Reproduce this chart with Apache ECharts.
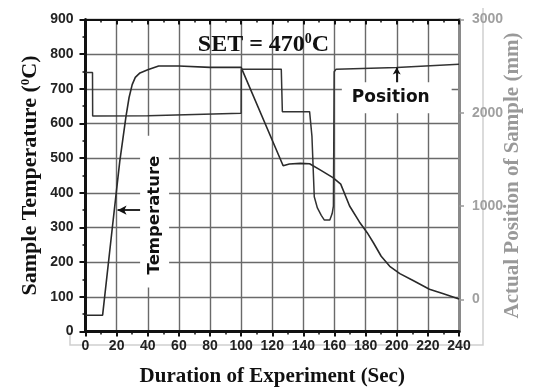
<!DOCTYPE html>
<html>
<head>
<meta charset="utf-8">
<script src="https://cdn.jsdelivr.net/npm/echarts@6/dist/echarts.min.js"></script>
<style>
  html, body { margin: 0; padding: 0; background: #fff; }
  #chart { width: 535px; height: 390px; }
</style>
</head>
<body>
<div id="chart"></div>
<script>
// temperature (left axis, degC) against time (s)
const tempTime  = [0, 11, 12, 17.5, 20, 22, 24, 26, 28, 30, 32, 35, 40, 47, 60, 80, 100, 127, 131, 138, 144, 150.5, 159, 164, 169.7, 176, 181, 185, 190, 195.5, 202, 210.5, 221, 230, 240];
const tempValue = [47, 47, 50, 310, 410, 490, 555, 620, 675, 712, 733, 746, 755, 766, 766, 762, 762, 478, 483, 485, 484, 467, 444, 425, 362, 316, 285, 256, 217, 188, 167, 147, 122, 109, 94];

// sample position (right axis, mm) against time (s)
const posTime  = [0, 4.5, 4.6, 40, 41, 100, 100.1, 125.8, 126.5, 144, 145.5, 147, 149, 151.5, 153.5, 157, 158.5, 159.3, 159.8, 161, 200, 240];
const posValue = [2431, 2431, 1965, 1968, 1985, 1995, 2468, 2468, 2012, 2012, 1750, 1100, 980, 900, 850, 850, 920, 1000, 2440, 2468, 2485, 2521];

const rightTicks = [0, 1000, 2000, 3000];

// annotation anchors, in data units
const tempArrow = { from: [40, 350], to: [20.6, 350] };
const posArrow = { from: [200, 2257], to: [200, 2485] };
const tempLabelAt = [44.4, 346];
const posLabelAt = [200, 2160];

const serif = 'Liberation Serif';
const sans = 'Liberation Sans';

const chart = echarts.init(document.getElementById('chart'));

const option = {
  animation: false,
  grid: { left: 85.5, right: 76, top: 19.5, bottom: 58.5, containLabel: false, outerBoundsMode: 'none' },
  xAxis: [
    {
      type: 'value', min: 0, max: 240, interval: 20,
      name: 'Duration of Experiment (Sec)', nameLocation: 'middle', nameGap: 35, nameMoveOverlap: false,
      nameTextStyle: { fontFamily: serif, fontWeight: 'bold', fontSize: 21, color: '#111' },
      axisLine: { show: true, onZero: false, lineStyle: { color: '#111', width: 3 } },
      axisTick: { show: true, length: 5, lineStyle: { color: '#111', width: 2 } },
      minorTick: { show: true, splitNumber: 2, length: 3, lineStyle: { color: '#111', width: 1.5 } },
      axisLabel: { fontFamily: sans, fontWeight: 'bold', fontSize: 14, color: '#222', margin: 8 },
      splitLine: { show: true, lineStyle: { color: '#6a6a6a', width: 1.4 } }
    },
    {
      type: 'value', position: 'top', min: 0, max: 240, interval: 20,
      axisLine: { show: true, onZero: false, lineStyle: { color: '#111', width: 2 } },
      axisTick: { show: true, inside: true, length: 5, lineStyle: { color: '#111', width: 2 } },
      minorTick: { show: true, splitNumber: 2, length: 3, lineStyle: { color: '#111', width: 1.5 } },
      axisLabel: { show: false },
      splitLine: { show: false }
    }
  ],
  yAxis: [
    {
      type: 'value', min: 0, max: 900, interval: 100,
      name: 'Sample Temperature ({s|0}C)', nameLocation: 'middle', nameGap: 44.5, nameRotate: 90, nameMoveOverlap: false,
      nameTextStyle: {
        fontFamily: serif, fontWeight: 'bold', fontSize: 22, color: '#111',
        rich: { s: { fontFamily: serif, fontWeight: 'bold', fontSize: 13, color: '#111', verticalAlign: 'top' } }
      },
      axisLine: { show: true, onZero: false, lineStyle: { color: '#111', width: 3 } },
      axisTick: { show: true, length: 6, lineStyle: { color: '#111', width: 2 } },
      minorTick: { show: true, splitNumber: 2, length: 3, lineStyle: { color: '#111', width: 1.5 } },
      axisLabel: { fontFamily: sans, fontWeight: 'bold', fontSize: 14, color: '#222', margin: 12 },
      splitLine: { show: true, lineStyle: { color: '#6a6a6a', width: 1.4 } }
    },
    {
      type: 'value', position: 'right', min: -344, max: 3000,
      name: 'Actual Position of Sample (mm)', nameLocation: 'middle', nameGap: 43.5, nameRotate: 90, nameMoveOverlap: false,
      nameTextStyle: { fontFamily: serif, fontWeight: 'bold', fontSize: 21, color: '#999' },
      axisLine: { show: true, onZero: false, lineStyle: { color: '#8a8a8a', width: 3 } },
      axisTick: { show: true, length: 5, customValues: rightTicks, lineStyle: { color: '#999', width: 1.5 } },
      axisLabel: {
        customValues: rightTicks, formatter: v => String(v),
        fontFamily: sans, fontWeight: 'bold', fontSize: 14, color: '#a0a0a0', margin: 13
      },
      splitLine: { show: false }
    }
  ],
  series: [
    {
      name: 'Temperature', type: 'line', xAxisIndex: 0, yAxisIndex: 0,
      data: tempTime.map((t, i) => [t, tempValue[i]]),
      showSymbol: false, z: 3,
      lineStyle: { color: '#2a2a2a', width: 1.6 },
      markLine: {
        silent: true, symbol: ['none', 'arrow'], symbolSize: [7, 9],
        label: { show: false },
        lineStyle: { color: '#111', width: 1.8, type: 'solid' },
        data: [[{ coord: tempArrow.from }, { coord: tempArrow.to }]]
      }
    },
    {
      name: 'Position', type: 'line', xAxisIndex: 0, yAxisIndex: 1,
      data: posTime.map((t, i) => [t, posValue[i]]),
      showSymbol: false, z: 3,
      lineStyle: { color: '#333', width: 1.5 },
      markLine: {
        silent: true, symbol: ['none', 'arrow'], symbolSize: [6, 7],
        label: { show: false },
        lineStyle: { color: '#111', width: 1.8, type: 'solid' },
        data: [[{ coord: posArrow.from }, { coord: posArrow.to }]]
      }
    }
  ]
};

chart.setOption(option);

const tPix = chart.convertToPixel({ xAxisIndex: 0, yAxisIndex: 0 }, tempLabelAt);
const pPix = chart.convertToPixel({ xAxisIndex: 0, yAxisIndex: 1 }, posLabelAt);

chart.setOption({
  graphic: [
    {
      type: 'polyline', silent: true, z: -1,
      shape: { points: [[70, 332], [70, 345], [483, 345], [483, 8]] },
      style: { stroke: '#cfcfcf', lineWidth: 1.5, fill: null }
    },
    {
      type: 'text', x: tPix[0], y: tPix[1], rotation: Math.PI / 2, z: 10,
      style: {
        text: 'Temperature', font: 'bold 16.5px "DejaVu Sans"', fill: '#111',
        align: 'center', verticalAlign: 'middle',
        backgroundColor: '#fff', padding: [6, 20, 6, 13]
      }
    },
    {
      type: 'text', x: pPix[0], y: pPix[1], z: 10,
      style: {
        text: 'Position', font: 'bold 17px "DejaVu Sans"', fill: '#111',
        align: 'center', verticalAlign: 'middle',
        backgroundColor: '#fff', padding: [6, 22, 8, 10]
      }
    },
    {
      type: 'text', x: 263.5, y: 44.5, z: 10,
      style: {
        text: '{a|SET = 470}{s|0}{a|C}',
        align: 'center', verticalAlign: 'middle',
        rich: {
          a: { fontFamily: serif, fontWeight: 'bold', fontSize: 24, fill: '#111', lineHeight: 24 },
          s: { fontFamily: serif, fontWeight: 'bold', fontSize: 14, fill: '#111', verticalAlign: 'top', lineHeight: 14 }
        }
      }
    }
  ]
});
</script>
</body>
</html>
